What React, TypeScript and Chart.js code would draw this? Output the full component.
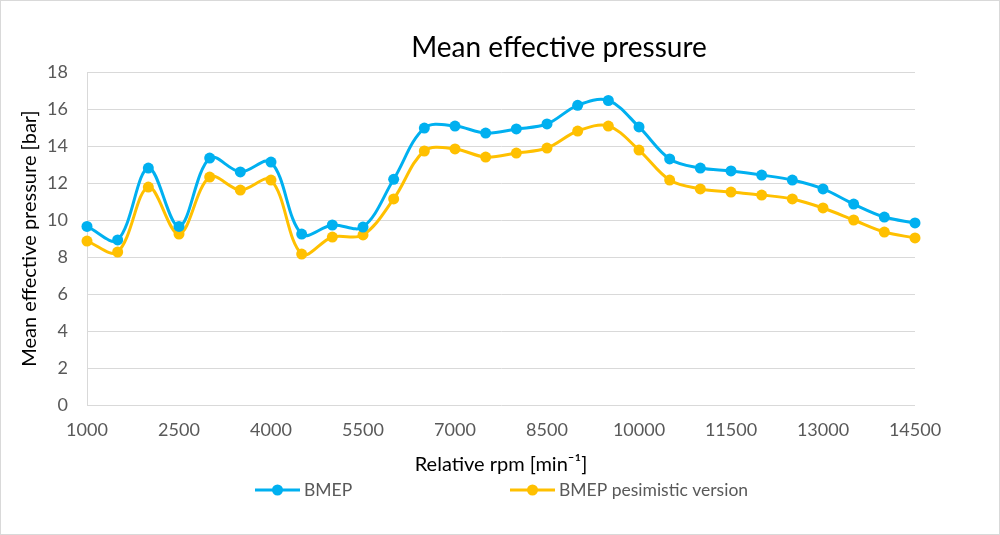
import React, { useEffect, useRef } from "react";
import { Chart, registerables } from "chart.js";

Chart.register(...registerables);

const rpm = [
  1000, 1500, 2000, 2500, 3000, 3500, 4000, 4500, 5000, 5500, 6000, 6500, 7000, 7500,
  8000, 8500, 9000, 9500, 10000, 10500, 11000, 11500, 12000, 12500, 13000, 13500, 14000, 14500,
];
const bmep = [
  9.65, 8.92, 12.81, 9.65, 13.35, 12.6, 13.13, 9.24, 9.73, 9.62, 12.2, 14.97, 15.08, 14.7,
  14.92, 15.19, 16.2, 16.46, 15.03, 13.3, 12.81, 12.65, 12.43, 12.16, 11.68, 10.86, 10.16, 9.84,
];
const bmepPessimistic = [
  8.86, 8.27, 11.78, 9.24, 12.32, 11.62, 12.16, 8.16, 9.08, 9.19, 11.14, 13.73, 13.84, 13.4,
  13.62, 13.89, 14.81, 15.08, 13.78, 12.16, 11.68, 11.51, 11.35, 11.14, 10.65, 10.0, 9.35, 9.03,
];
const xTickValues = [1000, 2500, 4000, 5500, 7000, 8500, 10000, 11500, 13000, 14500];
const seriesNames = ["BMEP", "BMEP pesimistic version"];
const seriesColors = ["#00B0F0", "#FFC000"];
const chartTitle = "Mean effective pressure";
const xTitle = "Relative rpm [min\u207B\u00B9]";
const yTitle = "Mean effective pressure [bar]";

const FONT = "Lato, 'Open Sans', sans-serif";

const decorPlugin = {
  id: "decor",
  beforeDraw(chart: any) {
    const { ctx, width, height } = chart;
    ctx.save();
    ctx.fillStyle = "#ffffff";
    ctx.fillRect(0, 0, width, height);
    ctx.strokeStyle = "#d9d9d9";
    ctx.lineWidth = 1;
    ctx.strokeRect(0.5, 0.5, width - 1, height - 1);
    ctx.restore();
  },
  afterDraw(chart: any) {
    const { ctx } = chart;
    ctx.save();
    // title
    ctx.font = `28px ${FONT}`;
    ctx.fillStyle = "#000000";
    ctx.textAlign = "center";
    ctx.textBaseline = "middle";
    ctx.fillText(chartTitle, 559, 48);
    // legend
    const legendX = [255, 510];
    const legendY = 490;
    seriesNames.forEach((name, i) => {
      const x = legendX[i];
      ctx.strokeStyle = seriesColors[i];
      ctx.lineWidth = 3;
      ctx.beginPath();
      ctx.moveTo(x, legendY);
      ctx.lineTo(x + 45, legendY);
      ctx.stroke();
      ctx.fillStyle = seriesColors[i];
      ctx.beginPath();
      ctx.arc(x + 22.5, legendY, 5.5, 0, Math.PI * 2);
      ctx.fill();
      ctx.fillStyle = "#595959";
      ctx.font = `17.5px ${FONT}`;
      ctx.textAlign = "left";
      ctx.textBaseline = "middle";
      ctx.fillText(name, x + 49, legendY);
    });
    ctx.restore();
  },
};

export default function App() {
  const canvasRef = useRef<HTMLCanvasElement | null>(null);

  useEffect(() => {
    document.body.style.margin = "0";
    const canvas = canvasRef.current;
    if (!canvas) return;
    const makeData = (vals: number[]) => rpm.map((x, i) => ({ x, y: vals[i] }));
    const chart = new Chart(canvas, {
      type: "line",
      data: {
        datasets: [bmep, bmepPessimistic].map((vals, i) => ({
          label: seriesNames[i],
          data: makeData(vals),
          borderColor: seriesColors[i],
          backgroundColor: seriesColors[i],
          borderWidth: 3,
          pointRadius: 5.5,
          pointHoverRadius: 5.5,
          pointBorderWidth: 0,
          tension: 0.35,
          clip: false as any,
        })),
      },
      options: {
        responsive: false,
        animation: false,
        layout: { padding: { left: 14, right: 85, top: 72, bottom: 54 } },
        plugins: {
          legend: { display: false },
          title: { display: false },
          tooltip: { enabled: false },
        },
        scales: {
          x: {
            type: "linear",
            min: 1000,
            max: 14500,
            afterBuildTicks: (scale: any) => {
              scale.ticks = xTickValues.map((v) => ({ value: v }));
            },
            afterFit: (scale: any) => {
              scale.height = 76;
            },
            grid: { display: false, drawTicks: false },
            border: { display: false },
            ticks: {
              autoSkip: false,
              maxRotation: 0,
              padding: 14,
              color: "#595959",
              font: { family: FONT, size: 18 },
              callback: (v: any) => String(v),
            },
            title: {
              display: true,
              text: xTitle,
              color: "#000000",
              font: { family: FONT, size: 20 },
            },
          },
          y: {
            min: 0,
            max: 18,
            afterFit: (scale: any) => {
              scale.width = 73;
            },
            ticks: {
              stepSize: 2,
              padding: 19,
              color: "#595959",
              font: { family: FONT, size: 18 },
            },
            grid: { color: "#d9d9d9", lineWidth: 1, drawTicks: false },
            border: { display: true, color: "#d9d9d9" },
            title: {
              display: true,
              text: yTitle,
              color: "#000000",
              font: { family: FONT, size: 20 },
            },
          },
        },
      },
      plugins: [decorPlugin],
    });
    return () => chart.destroy();
  }, []);

  return (
    <div style={{ width: 1000, height: 535 }}>
      <canvas ref={canvasRef} width={1000} height={535} />
    </div>
  );
}
